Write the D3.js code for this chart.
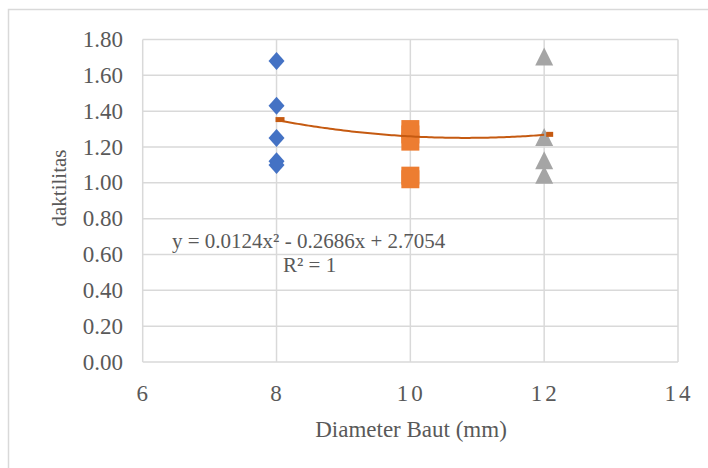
<!DOCTYPE html>
<html><head><meta charset="utf-8">
<script src="https://cdn.jsdelivr.net/npm/d3@7"></script>
<style>body{margin:0;background:#fff}svg{display:block}</style>
</head><body><svg id="c" width="708" height="468"></svg>
<script>
const xTicks = [6, 8, 10, 12, 14];
const yTicks = [0, 0.2, 0.4, 0.6, 0.8, 1.0, 1.2, 1.4, 1.6, 1.8];
const blueX = 8;
const blueVals = [1.68, 1.43, 1.25, 1.12, 1.10];
const orangeX = 10;
const orangeVals = [1.30, 1.27, 1.23, 1.04, 1.02];
const greyX = 12;
const greyVals = [1.70, 1.25, 1.12, 1.04];
const trendCoef = [0.0124, -0.2686, 2.7054];
const trendRange = [8, 12];
const eqText = "y = 0.0124x² - 0.2686x + 2.7054";
const r2Text = "R² = 1";
const xTitle = "Diameter Baut (mm)";
const yTitle = "daktilitas";

const svg = d3.select("#c");
const font = "'Liberation Serif','Times New Roman',serif";
const txt = "#595959", grid = "#D9D9D9";
const x = d3.scaleLinear().domain([6, 14]).range([142.7, 678]);
const y = d3.scaleLinear().domain([0, 1.8]).range([362, 39.5]);

svg.append("rect").attr("x", 8.5).attr("y", 9.5).attr("width", 900).attr("height", 900)
  .attr("fill", "none").attr("stroke", grid).attr("stroke-width", 1.5);

// gridlines
svg.append("g").selectAll("line").data(yTicks).join("line")
  .attr("x1", x(6)).attr("x2", x(14)).attr("y1", d => y(d)).attr("y2", d => y(d))
  .attr("stroke", grid).attr("stroke-width", 1.5);
svg.append("g").selectAll("line").data(xTicks).join("line")
  .attr("y1", y(0)).attr("y2", y(1.8)).attr("x1", d => x(d)).attr("x2", d => x(d))
  .attr("stroke", grid).attr("stroke-width", 1.5);

// tick labels
svg.append("g").selectAll("text").data(yTicks).join("text")
  .attr("x", 123).attr("y", d => y(d) + 7.5).attr("text-anchor", "end")
  .attr("font-family", font).attr("font-size", 23).attr("fill", txt)
  .text(d => d3.format(".2f")(d));
svg.append("g").selectAll("text").data(xTicks).join("text")
  .attr("x", d => x(d) + 1).attr("y", 401).attr("text-anchor", "middle")
  .attr("font-family", font).attr("font-size", 23).attr("fill", txt)
  .attr("letter-spacing", 3)
  .text(d => d);

// axis titles
svg.append("text").attr("x", 411).attr("y", 437).attr("text-anchor", "middle")
  .attr("font-family", font).attr("font-size", 23).attr("fill", txt).text(xTitle);
svg.append("text").attr("transform", "translate(66,188) rotate(-90)").attr("text-anchor", "middle")
  .attr("font-family", font).attr("font-size", 21).attr("fill", txt).text(yTitle);

// markers
const g = svg.append("g");
g.selectAll("path.bl").data(blueVals).join("path").attr("class", "bl")
  .attr("d", d => `M${x(blueX)},${y(d)-9}L${x(blueX)+8},${y(d)}L${x(blueX)},${y(d)+9}L${x(blueX)-8},${y(d)}Z`)
  .attr("fill", "#4472C4");
g.selectAll("rect.or").data(orangeVals).join("rect").attr("class", "or")
  .attr("x", x(orangeX) - 9).attr("y", d => y(d) - 9).attr("width", 18).attr("height", 18)
  .attr("fill", "#ED7D31");
g.selectAll("path.gr").data(greyVals).join("path").attr("class", "gr")
  .attr("d", d => `M${x(greyX)},${y(d)-10}L${x(greyX)+9},${y(d)+8}L${x(greyX)-9},${y(d)+8}Z`)
  .attr("fill", "#A5A5A5");

// trendline
const f = t => trendCoef[0]*t*t + trendCoef[1]*t + trendCoef[2];
const pts = d3.range(0, 101).map(i => trendRange[0] + (trendRange[1]-trendRange[0])*i/100);
svg.append("path").attr("d", d3.line().x(t => x(t)).y(t => y(f(t))).curve(d3.curveLinear)(pts))
  .attr("fill", "none").attr("stroke", "#C55A11").attr("stroke-width", 2);
svg.append("rect").attr("x", x(trendRange[0]) - 1).attr("y", y(f(trendRange[0])) - 3)
  .attr("width", 9).attr("height", 5).attr("fill", "#C55A11");
svg.append("rect").attr("x", x(trendRange[1]) + 2).attr("y", y(f(trendRange[1])) - 3)
  .attr("width", 7).attr("height", 5).attr("fill", "#C55A11");

// equation label
svg.append("text").attr("x", 172).attr("y", 248).attr("font-family", font).attr("font-size", 21)
  .attr("fill", txt).text(eqText);
svg.append("text").attr("x", 283).attr("y", 272).attr("font-family", font).attr("font-size", 21)
  .attr("fill", txt).text(r2Text);
</script></body></html>
